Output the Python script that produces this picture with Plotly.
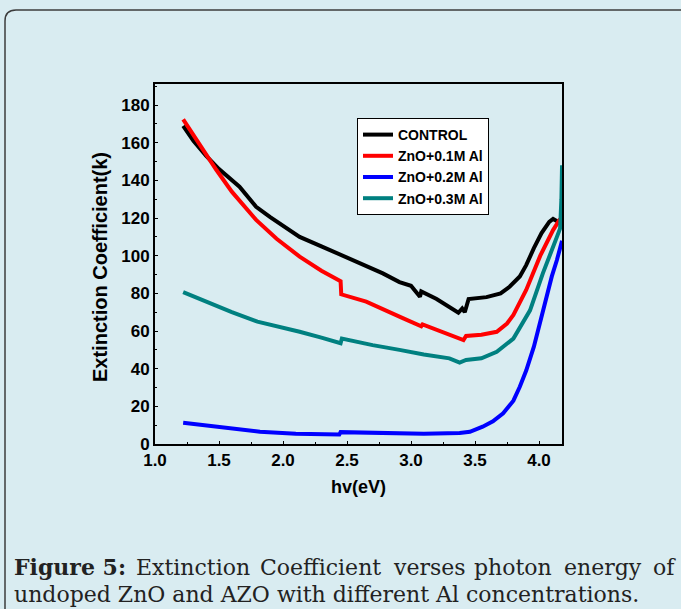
import plotly.graph_objects as go

# ---- data ----
control_x = [1.22, 1.30, 1.40, 1.50, 1.66, 1.79, 1.90, 2.00, 2.13, 2.30, 2.45, 2.60, 2.78, 2.91, 3.00,
             3.07, 3.08, 3.20, 3.30, 3.37, 3.40, 3.42, 3.45, 3.59, 3.70, 3.77, 3.85, 3.90, 3.96, 4.02,
             4.08, 4.11, 4.15, 4.18]
control_y = [169, 161, 153, 146, 136.6, 126, 120.5, 116, 110, 105, 100.4, 96, 90.6, 86, 84,
             78.2, 81, 77, 73, 69.7, 72, 70, 77, 78, 80, 83.5, 89, 95, 104, 112,
             118, 119.5, 118, 116]

al01_x = [1.22, 1.30, 1.40, 1.48, 1.60, 1.79, 1.95, 2.13, 2.30, 2.45, 2.455, 2.65, 2.94, 3.08, 3.09,
          3.20, 3.30, 3.41, 3.43, 3.55, 3.67, 3.75, 3.80, 3.90, 4.01, 4.11, 4.16, 4.18]
al01_y = [172.4, 164, 153.5, 145.5, 134, 119, 109, 99.5, 92, 86.5, 79.5, 75.6, 66.7, 62.5, 63.5,
          60.5, 57.9, 55.2, 57.4, 58, 59.6, 64, 68.5, 81.8, 100, 113.6, 119, 120]

al02_x = [1.22, 1.50, 1.82, 2.10, 2.44, 2.45, 2.80, 3.10, 3.38, 3.46, 3.56, 3.64, 3.72, 3.80, 3.85,
          3.90, 3.96, 4.01, 4.06, 4.10, 4.14, 4.18]
al02_y = [11.3, 9, 6.5, 5.5, 5, 6.3, 6, 5.5, 5.8, 6.5, 9.2, 12, 16.3, 23, 30.4,
          39, 51.7, 65, 80, 89, 97.7, 108]

al03_x = [1.22, 1.40, 1.60, 1.80, 2.00, 2.13, 2.30, 2.45, 2.46, 2.70, 2.91, 3.10, 3.30, 3.38, 3.43,
          3.55, 3.67, 3.80, 3.93, 4.03, 4.14, 4.165, 4.175, 4.18]
al03_y = [80.7, 75.5, 70, 65, 62, 59.6, 56.5, 53.5, 56, 52.5, 50, 47.5, 45.5, 43.2, 44.6,
          45.5, 49, 56, 71, 90.6, 110, 114.5, 130, 148]

series_names = ["CONTROL", "ZnO+0.1M Al", "ZnO+0.2M Al", "ZnO+0.3M Al"]
series_colors = ["#000000", "#ff0000", "#0000ff", "#008080"]

x_ticks = [1.0, 1.5, 2.0, 2.5, 3.0, 3.5, 4.0]
y_ticks = [0, 20, 40, 60, 80, 100, 120, 140, 160, 180]

caption_line1_words = ["<b>Figure 5:</b>", "Extinction", "Coefficient", "verses", "photon", "energy", "of"]
caption_line2 = "undoped ZnO and AZO with different Al concentrations."

# ---- figure ----
W, H = 681, 609
L, R, T, B = 155, 119, 84, 165
pw, ph = W - L - R, H - T - B


def px(xp):
    return (xp - L) / pw


def py(yp):
    return (H - B - yp) / ph


BG = "rgb(217,236,241)"
fig = go.Figure()
for xs, ys, n, c in zip([control_x, al01_x, al02_x, al03_x],
                        [control_y, al01_y, al02_y, al03_y],
                        series_names, series_colors):
    fig.add_trace(go.Scatter(x=xs, y=ys, mode="lines", name=n,
                             line=dict(color=c, width=4)))

tickfont = dict(family="Liberation Sans", size=17, color="black", weight="bold")
fig.update_layout(
    width=W, height=H, autosize=False,
    margin=dict(l=L, r=R, t=T, b=B, pad=0),
    paper_bgcolor=BG, plot_bgcolor=BG,
    showlegend=True,
    legend=dict(x=px(357), y=py(118), xanchor="left", yanchor="top",
                bgcolor="white", bordercolor="black", borderwidth=1,
                font=dict(family="Liberation Sans", size=14, color="black", weight="bold"),
                tracegroupgap=0, itemwidth=30),
    xaxis=dict(range=[1.0, 1.0 + pw / 128.0], tickvals=x_ticks,
               ticktext=[f"{v:.1f}" for v in x_ticks],
               showline=True, linecolor="black", linewidth=2, mirror=True,
               showgrid=False, zeroline=False, ticks="inside", ticklen=3,
               tickcolor="black", tickfont=tickfont, ticklabelstandoff=0,
               minor=dict(ticks="inside", ticklen=2, dtick=0.25, tickcolor="black")),
    yaxis=dict(range=[0, ph / 1.883], tickvals=y_ticks,
               showline=True, linecolor="black", linewidth=2, mirror=True,
               showgrid=False, zeroline=False, ticks="inside", ticklen=3,
               tickcolor="black", tickfont=tickfont, ticklabelstandoff=0,
               minor=dict(ticks="inside", ticklen=2, dtick=10, tickcolor="black")),
)

# axis titles
fig.add_annotation(text="Extinction Coefficient(k)", xref="paper", yref="paper",
                   x=px(100), y=py(267), textangle=-90, showarrow=False,
                   xanchor="center", yanchor="middle",
                   font=dict(family="Liberation Sans", size=20, color="black", weight="bold"))
fig.add_annotation(text="hv(eV)", xref="paper", yref="paper",
                   x=px(358), y=py(487), showarrow=False,
                   xanchor="center", yanchor="middle",
                   font=dict(family="Liberation Sans", size=18, color="black", weight="bold"))

# caption (first line justified across the width, word by word)
capfont = dict(family="DejaVu Serif", size=22, color="#222222")
word_left = [12, 134, 258, 391, 472, 562, 651]
for wtxt, wx in zip(caption_line1_words, word_left):
    fig.add_annotation(text=wtxt, xref="paper", yref="paper",
                       x=px(wx), y=py(567), showarrow=False, xanchor="left", yanchor="middle",
                       font=capfont)
fig.add_annotation(text=caption_line2, xref="paper", yref="paper",
                   x=px(12), y=py(594), showarrow=False, xanchor="left", yanchor="middle",
                   font=capfont)

# outer rounded frame
r = 11
path = (f"M {px(5)},{py(700)} L {px(5)},{py(10 + r)} "
        f"Q {px(5)},{py(10)} {px(5 + r)},{py(10)} L {px(720)},{py(10)}")
fig.add_shape(type="path", path=path, xref="paper", yref="paper",
              line=dict(color="#3c3c3c", width=1.5), layer="below")

fig.write_html("out.html", config={"displayModeBar": False},
               post_script="document.body.style.margin='0';document.body.style.padding='0';")
